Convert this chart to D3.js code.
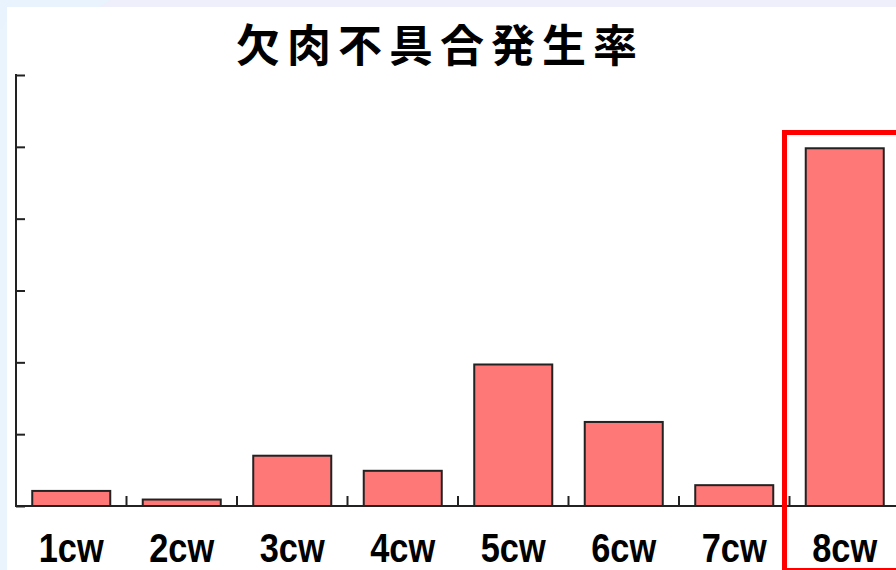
<!DOCTYPE html>
<html>
<head>
<meta charset="utf-8">
<script src="https://cdnjs.cloudflare.com/ajax/libs/d3/7.8.5/d3.min.js"></script>
<style>
  html, body { margin: 0; padding: 0; background: #fff; }
  svg { display: block; }
</style>
</head>
<body>
<svg id="chart" width="896" height="570"></svg>
<script>
// 欠肉不具合発生率 by calendar week
const categories = ["1cw", "2cw", "3cw", "4cw", "5cw", "6cw", "7cw", "8cw"];
const rates = [0.21, 0.09, 0.70, 0.49, 1.97, 1.17, 0.29, 4.98];
const yTicks = [0, 1, 2, 3, 4, 5, 6];
const highlighted = ["8cw"];
const title = "欠肉不具合発生率";

const W = 896, H = 570;
const svg = d3.select("#chart");

// page backdrop strips
svg.append("rect").attr("x", 0).attr("y", 0).attr("width", W).attr("height", H).attr("fill", "#ffffff");
svg.append("rect").attr("x", 0).attr("y", 0).attr("width", W).attr("height", 7).attr("fill", "#efeffb");
svg.append("rect").attr("x", 0).attr("y", 0).attr("width", 7).attr("height", H).attr("fill", "#eaf4fd");
svg.append("path").attr("d", "M0,0 L110,0 L100,7 L7,7 L7,20 L0,30 Z").attr("fill", "#e8f3fd");

const plot = { left: 16, top: 75, bottom: 506, right: 900 };

const x = d3.scaleBand()
  .domain(categories)
  .range([plot.left, plot.right])
  .paddingInner(0.294)
  .paddingOuter(0.147);

const y = d3.scaleLinear()
  .domain([0, 6])
  .range([plot.bottom, plot.top]);

const step = x.step();
const gap = (step - x.bandwidth()) / 2;

// title
svg.append("text")
  .attr("x", 440)
  .attr("y", 62)
  .attr("text-anchor", "middle")
  .attr("font-family", "'Noto Sans CJK JP', sans-serif")
  .attr("font-weight", "bold")
  .attr("font-size", 44)
  .attr("letter-spacing", 7)
  .attr("fill", "#000")
  .text(title);

// bars
svg.append("g")
  .selectAll("rect")
  .data(categories)
  .join("rect")
  .attr("x", d => x(d))
  .attr("y", (d, i) => y(rates[i]))
  .attr("width", x.bandwidth())
  .attr("height", (d, i) => y(0) - y(rates[i]))
  .attr("fill", "#ff7878")
  .attr("stroke", "#222")
  .attr("stroke-width", 2);

// y axis (ticks pointing inward, no labels)
const yAxis = d3.axisRight(y)
  .tickValues(yTicks)
  .tickSize(9)
  .tickFormat("");
const gy = svg.append("g")
  .attr("transform", `translate(${plot.left},0)`)
  .call(yAxis);
gy.select(".domain").remove();
gy.selectAll(".tick line").attr("stroke", "#222").attr("stroke-width", 2);
svg.append("line")
  .attr("x1", plot.left).attr("x2", plot.left)
  .attr("y1", y(6) - 1).attr("y2", y(0) + 1)
  .attr("stroke", "#222").attr("stroke-width", 2);

// x axis baseline and boundary ticks between categories
svg.append("line")
  .attr("x1", plot.left).attr("x2", W)
  .attr("y1", y(0)).attr("y2", y(0))
  .attr("stroke", "#222").attr("stroke-width", 2);
svg.append("g")
  .selectAll("line")
  .data(categories.slice(1))
  .join("line")
  .attr("x1", d => x(d) - gap)
  .attr("x2", d => x(d) - gap)
  .attr("y1", y(0))
  .attr("y2", y(0) - 10)
  .attr("stroke", "#222")
  .attr("stroke-width", 2);

// category labels
svg.append("g")
  .selectAll("text")
  .data(categories)
  .join("text")
  .attr("x", d => x(d) + x.bandwidth() / 2)
  .attr("y", 562)
  .attr("text-anchor", "middle")
  .attr("font-family", "'Liberation Sans', Arial, sans-serif")
  .attr("font-weight", "bold")
  .attr("font-size", 40)
  .attr("textLength", 65)
  .attr("lengthAdjust", "spacingAndGlyphs")
  .attr("fill", "#000")
  .text(d => d);

// highlight frame around the latest week (runs off the right and bottom edges)
svg.append("g")
  .selectAll("rect")
  .data(highlighted)
  .join("rect")
  .attr("x", d => x(d) - gap - 5)
  .attr("y", 132.5)
  .attr("width", step + 30)
  .attr("height", 438)
  .attr("fill", "none")
  .attr("stroke", "#ff0000")
  .attr("stroke-width", 5);
</script>
</body>
</html>
